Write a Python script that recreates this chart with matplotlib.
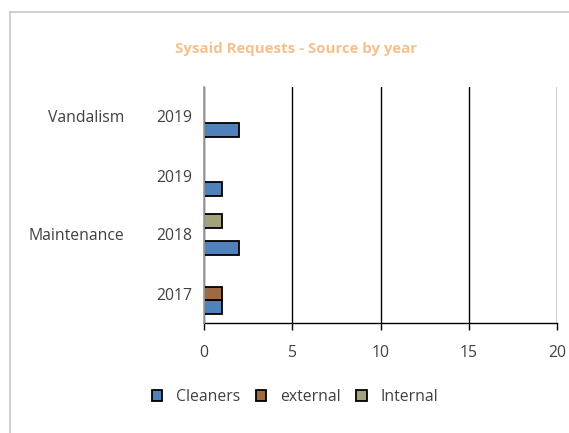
import matplotlib
matplotlib.use("Agg")
import matplotlib.pyplot as plt
import numpy as np
from matplotlib.lines import Line2D
from matplotlib.patches import Patch
from matplotlib.transforms import offset_copy

# Data: categories are (group, year) pairs, bottom to top
groups = ["Maintenance", "Maintenance", "Maintenance", "Vandalism"]
years = ["2017", "2018", "2019", "2019"]
series_names = ["Cleaners", "external", "Internal"]
cleaners = [1, 2, 1, 2]
external = [1, 0, 0, 0]
internal = [0, 1, 0, 0]
x_ticks = [0, 5, 10, 15, 20]

colors = ["#4F81BD", "#9C6B43", "#A2A27C"]
text_color = "#404040"
plt.rcParams["font.family"] = ["Open Sans", "DejaVu Sans"]
fs = 11.3

fig = plt.figure(figsize=(5.69, 4.33), dpi=100)
W, H = 569, 433
ax = fig.add_axes([204 / W, 1 - 323 / H, (557 - 204) / W, (323 - 87) / H])

y = np.arange(len(years))
bar_h = 0.229
offsets = [-bar_h, 0.0, bar_h]
for vals, off, col in zip([cleaners, external, internal], offsets, colors):
    for yi, v in zip(y, vals):
        if v > 0:
            ax.barh(yi + off, v, height=bar_h, color=col, edgecolor="black",
                    linewidth=1.3, zorder=3)

ax.set_xlim(0, 20)
ax.set_ylim(-0.5, len(years) - 0.5)
ax.set_xticks(x_ticks)
ax.set_xticklabels([str(t) for t in x_ticks], fontsize=fs, color=text_color)
ax.tick_params(axis="x", direction="out", length=5, width=1, color="black", pad=10.5)
ax.set_yticks([])
ax.grid(axis="x", color="black", linewidth=1, zorder=0)
for s in ["top", "right"]:
    ax.spines[s].set_visible(False)
ax.spines["bottom"].set_color("black")
ax.spines["bottom"].set_linewidth(1)
ax.spines["left"].set_color("#A0A0A0")
ax.spines["left"].set_linewidth(1.3)
ax.spines["left"].set_zorder(4)

# Two-level category labels
label_tr = offset_copy(ax.transData, fig=fig, x=-12, y=-2, units="dots")
for yi, yr in zip(y, years):
    ax.text(0, yi, yr, ha="right", va="center", fontsize=fs,
            color=text_color, transform=label_tr, clip_on=False)
seen = {}
for yi, g in zip(y, groups):
    seen.setdefault(g, []).append(yi)
for g, ys in seen.items():
    yc = (min(ys) + max(ys)) / 2
    ypix = ax.transData.transform((0, yc))[1] - 2
    fig.text(124 / W, ypix / H, g, ha="right", va="center", fontsize=fs,
             color=text_color)

fig.text(296 / W, 1 - 49 / H, "Sysaid Requests - Source by year", ha="center",
         va="center", fontsize=10.8, fontweight="bold", color="#F6C08E")

handles = [Patch(facecolor=c, edgecolor="black", linewidth=1.3) for c in colors]
fig.legend(handles, series_names, loc="center", bbox_to_anchor=(295 / W, 1 - 397 / H),
           ncol=3, frameon=False, fontsize=fs, handlelength=0.65, handleheight=0.65,
           columnspacing=1.0, handletextpad=0.9, labelcolor=text_color)

# Chart frame
fig.add_artist(Line2D([9.5 / W, 9.5 / W], [0, 1 - 12 / H], transform=fig.transFigure,
                      color="#C8C8C8", linewidth=1.2))
fig.add_artist(Line2D([9.5 / W, 1], [1 - 12 / H, 1 - 12 / H], transform=fig.transFigure,
                      color="#C8C8C8", linewidth=1.2))

fig.savefig("out.png", dpi=100)
